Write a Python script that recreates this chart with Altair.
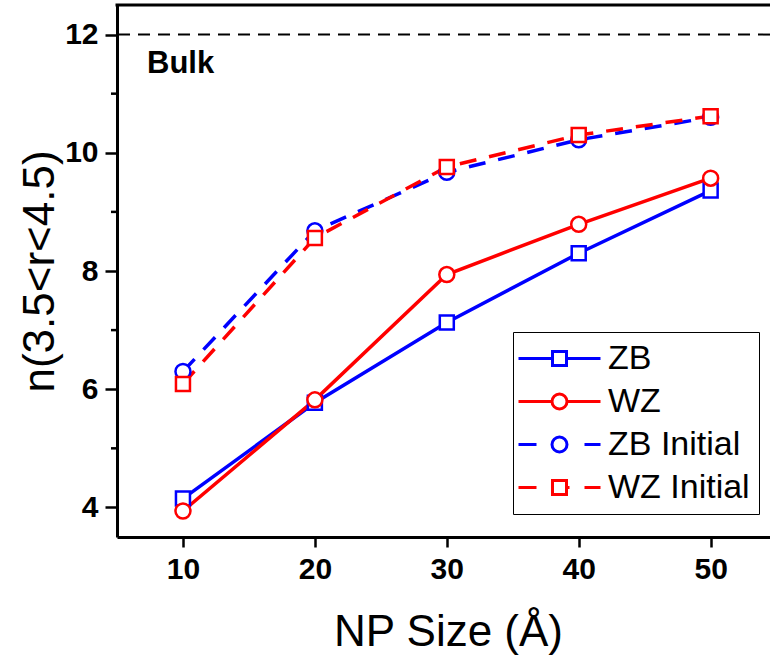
import altair as alt
import pandas as pd

# ---- data ----
sizes = [10, 20, 30, 40, 50]
zb = [4.15, 5.77, 7.13, 8.30, 9.36]
wz = [3.94, 5.82, 7.94, 8.79, 9.57]
zb_init = [6.30, 8.68, 9.67, 10.22, 10.60]
wz_init = [6.09, 8.56, 9.76, 10.30, 10.62]
series_names = ["ZB", "WZ", "ZB Initial", "WZ Initial"]
y_ticks = [4, 6, 8, 10, 12]
minor_ticks = [5, 7, 9, 11]
bulk_value = [12]
annotation = ["Bulk"]

rows = []
for name, vals in zip(series_names, [zb, wz, zb_init, wz_init]):
    for s, v in zip(sizes, vals):
        rows.append({"size": s, "n": v, "series": name})
df = pd.DataFrame(rows)

# ---- styling ----
FONT = "Liberation Sans"
BLUE, RED = "#0000ff", "#ff0000"
colors = [BLUE, RED, BLUE, RED]
W, H = 653, 532

# legend symbol paths (unit = 16 px with symbolSize 1024)
L = 41 / 16
sq = 7 / 16
r = 7.5 / 16
dl = -23 / 16
dr = 25 / 16
circ = f"M{-r},0A{r},{r} 0 1,0 {r},0A{r},{r} 0 1,0 {-r},0Z"
square = f"M{-sq},{-sq}L{sq},{-sq}L{sq},{sq}L{-sq},{sq}Z"
legend_paths = [
    f"M{-L},0L{-sq},0M{sq},0L{L},0" + square,
    f"M{-L},0L{-r},0M{r},0L{L},0" + circ,
    f"M{-L},0L{dl},0M{dr},0L{L},0" + circ,
    f"M{-L},0L{dl},0M{dr},0L{L},0M{sq},0L{10/16},0" + square,
]

x_enc = alt.X(
    "size:Q",
    scale=alt.Scale(domain=[5, 54.5], nice=False, zero=False),
    axis=alt.Axis(
        values=sizes, format="d", grid=False, title="NP Size (Å)",
        labelFont=FONT, labelFontSize=30, labelFontWeight="bold", labelColor="black",
        labelPadding=7, tickSize=10, tickWidth=2.5, tickColor="black",
        domainWidth=3, domainColor="black",
        titleFont=FONT, titleFontSize=44, titleFontWeight="normal", titleColor="black",
        titleX=331, titleY=108, titleBaseline="alphabetic", titleAlign="center",
    ),
)
y_enc = alt.Y(
    "n:Q",
    scale=alt.Scale(domain=[3.5, 12.5], nice=False, zero=False),
    axis=alt.Axis(
        values=y_ticks, format="d", grid=False, title="n(3.5<r<4.5)",
        labelFont=FONT, labelFontSize=30, labelFontWeight="bold", labelColor="black",
        labelPadding=7, tickSize=12, tickWidth=2.5, tickColor="black",
        domainWidth=3, domainColor="black",
        titleFont=FONT, titleFontSize=44, titleFontWeight="normal", titleColor="black",
        titleX=-64, titleY=266, titleBaseline="alphabetic", titleAlign="center",
    ),
)
# colour scale for the drawn marks (domain order differs from the legend's scale
# so that its disabled legend is not merged with the visible one)
color_enc = alt.Color(
    "series:N",
    scale=alt.Scale(domain=["ZB", "ZB Initial", "WZ", "WZ Initial"], range=[BLUE, BLUE, RED, RED]),
    legend=None,
)

base = alt.Chart(df)

dashed = base.transform_filter(
    alt.FieldOneOfPredicate(field="series", oneOf=series_names[2:])
).mark_line(strokeWidth=3.5, strokeDash=[17, 13]).encode(
    x=x_enc, y=y_enc, color=color_enc, detail="series:N"
)
solid = base.transform_filter(
    alt.FieldOneOfPredicate(field="series", oneOf=series_names[:2])
).mark_line(strokeWidth=3.5).encode(
    x=x_enc, y=y_enc, color=color_enc, detail="series:N"
)

def points(name, mark):
    c = base.transform_filter(alt.datum.series == name)
    if mark == "square":
        m = c.mark_square(filled=False, fill="white", size=196, strokeWidth=2.5, opacity=1)
    else:
        m = c.mark_circle(filled=False, fill="white", size=225, strokeWidth=2.5, opacity=1)
    return m.encode(x=x_enc, y=y_enc, color=color_enc)

pts = [points("ZB", "square"), points("WZ", "circle"),
       points("ZB Initial", "circle"), points("WZ Initial", "square")]

legend_def = alt.Legend(
    title=None, orient="none", legendX=396, legendY=327,
    strokeColor="black", padding=9, cornerRadius=0,
    symbolSize=1024, symbolStrokeWidth=3, symbolOffset=20,
    symbolOpacity=1, labelOffset=31, rowPadding=8,
    labelFont=FONT, labelFontSize=34, labelColor="black",
    labelLimit=300,
)

legend_layer = base.mark_point(opacity=0, filled=False).encode(
    x=x_enc, y=y_enc,
    stroke=alt.Stroke("series:N", scale=alt.Scale(domain=series_names, range=colors),
                      legend=legend_def),
    shape=alt.Shape("series:N", scale=alt.Scale(domain=series_names, range=legend_paths),
                    legend=legend_def),
)

bulk = alt.Chart(pd.DataFrame({"n": bulk_value})).mark_rule(
    color="black", strokeWidth=2, strokeDash=[12, 8]
).encode(y=y_enc)

bulk_text = alt.Chart(pd.DataFrame({"label": annotation})).mark_text(
    font=FONT, fontSize=31, fontWeight="bold", align="left", baseline="alphabetic", color="black"
).encode(text="label:N", x=alt.value(30), y=alt.value(68))

minor = alt.Chart(pd.DataFrame({"n": minor_ticks})).mark_rule(
    color="black", strokeWidth=2.5
).encode(y=y_enc, x=alt.value(-6), x2=alt.value(0))

top_border = alt.Chart(pd.DataFrame({"k": [0]})).mark_rule(
    color="black", strokeWidth=3
).encode(y=alt.value(0), x=alt.value(-1.5), x2=alt.value(W + 5))

chart = alt.layer(
    bulk, minor, top_border, bulk_text, dashed, solid, *pts, legend_layer
).properties(
    width=W, height=H,
    padding={"left": 117, "top": 5, "right": 0, "bottom": 118},
    autosize=alt.AutoSizeParams(type="none"),
    background="white",
).configure_view(stroke=None)

chart.save("out.html", embed_options={"renderer": "svg", "actions": False})
